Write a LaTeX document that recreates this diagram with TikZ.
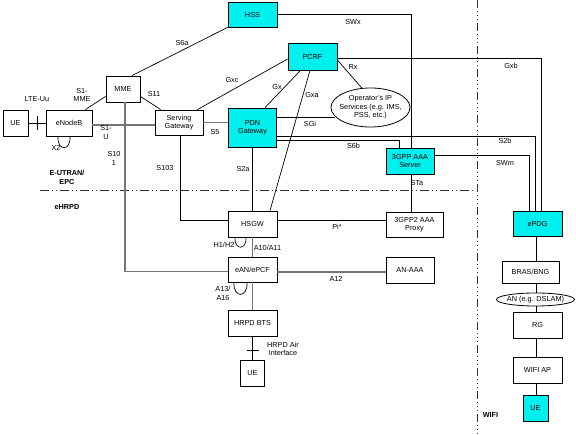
\documentclass[tikz,border=0pt]{standalone}
\usepackage{fontspec}
\setmainfont{Liberation Sans}
\usetikzlibrary{shapes.geometric,calc}
\definecolor{boxcyan}{RGB}{0,240,240}
\definecolor{lgray}{RGB}{118,118,118}
\begin{document}
\begin{tikzpicture}[x=1pt,y=-1pt,
  font=\fontsize{7.3}{8.3}\selectfont,
  box/.style n args={2}{draw, rectangle, line width=0.8pt, inner sep=0pt,
    minimum width=#1pt, minimum height=#2pt, align=center},
  cbox/.style n args={2}{box={#1}{#2}, fill=boxcyan},
  oval/.style n args={2}{draw, ellipse, line width=0.8pt, inner sep=0pt,
    minimum width=#1pt, minimum height=#2pt},
  conn/.style={line width=0.7pt},
  glink/.style={line width=1.5pt, draw=lgray},
  lbl/.style={inner sep=0pt, align=center},
  blbl/.style={inner sep=0pt, align=center, font=\bfseries\fontsize{7.3}{8.3}\selectfont},
  sep/.style={line width=1pt, draw=black!80}]
\fill[white] (0,0) rectangle (576,435);
\useasboundingbox (0,0) rectangle (576,435);

% nodes
\node[box={25}{26}] (ue1) at (15.5,123) {UE};
\node[box={46}{26}] (enb) at (69,123) {eNodeB};
\node[box={34}{26}] (mme) at (123,89) {MME};
\node[box={48}{25}] (sgw) at (179,122.5) {Serving\\Gateway};
\node[cbox={49}{25}] (hss) at (252.5,14.5) {HSS};
\node[cbox={49}{27}] (pcrf) at (312.5,56.5) {PCRF};
\node[cbox={48}{39}] (pdn) at (252.5,127.5) {PDN\\Gateway};
\node[oval={79}{39}] (ops) at (370.5,107.5) {};
\node[lbl] (opstext) at (ops) {Operator's IP\\Services (e.g. IMS,\\PSS, etc.)};
\node[cbox={48}{26}] (aaa) at (410,161) {3GPP AAA\\Server};
\node[box={49}{26}] (hsgw) at (252.5,224) {HSGW};
\node[box={57}{25}] (proxy) at (414.5,224.5) {3GPP2 AAA\\Proxy};
\node[box={49}{25}] (ean) at (252.5,269.5) {eAN/ePCF};
\node[box={48}{26}] (anaaa) at (410,270) {AN-AAA};
\node[box={49}{26}] (bts) at (252.5,323) {HRPD BTS};
\node[box={24}{26}] (ue2) at (252.5,373) {UE};
\node[cbox={49}{25}] (epdg) at (537.5,223.5) {ePDG};
\node[box={57}{22}] (bras) at (530.5,272) {BRAS/BNG};
\node[oval={78}{13}] (an) at (535.5,299.5) {};
\node[lbl] (antext) at (an) {AN (e.g. DSLAM)};
\node[box={49}{26}] (rg) at (537.5,325) {RG};
\node[box={49}{26}] (ap) at (537.5,370) {WIFI AP};
\node[cbox={25}{26}] (ue3) at (535.5,408) {UE};
\coordinate (cx) at (536,0);

% separators
\draw[sep, dash pattern=on 9pt off 3pt on 1pt off 3pt on 1pt off 3pt] (40,191) -- (476,191);
\draw[sep, dash pattern=on 8pt off 3pt on 1pt off 3pt on 1pt off 3pt on 1pt off 3pt] (477,0) -- (477,435);

% E-UTRAN connectors
\draw[conn] (ue1) -- (enb);
\draw[conn] ($(ue1.east)!0.5!(enb.west)$) ++(0,-7) -- ++(0,14);
\draw[conn] ([xshift=-11pt]enb.south) .. controls +(-1,15) and +(1,15) .. ([xshift=1pt]enb.south);
\draw[conn] ([xshift=-7pt]enb.north east) -- ([yshift=6pt]mme.south west);
\draw[glink] ([yshift=-2pt]enb.east) -- ([yshift=-2pt]enb.east -| sgw.west);
\draw[conn] ([yshift=6pt]mme.south east) -- ([xshift=6pt]sgw.north west);
\draw[conn] ([xshift=9pt]mme.north) -- (hss.south west);
\draw[glink] ([xshift=2pt]mme.south) |- ([yshift=-2pt]ean.west);
\draw[glink] (sgw.east) -- (sgw.east -| pdn.west);
\draw[conn] ([xshift=1pt]sgw.south) |- ([yshift=4pt]hsgw.west);
\draw[conn] ([xshift=-6pt]sgw.north east) -- ([yshift=-2.5pt]pcrf.west);
\draw[conn] ([xshift=-12pt]pcrf.south) -- ([xshift=12.5pt]pdn.north);
\draw[conn] ([xshift=-2.5pt]pcrf.south) -- ([xshift=17.5pt]hsgw.north);
\draw[conn] ([yshift=-3.5pt]pcrf.east) -- (ops.114);
\draw[conn] (ops.195) -- (ops.195 -| pdn.east);
\draw[conn] ([yshift=-12.5pt]pdn.east) -| ([xshift=-11pt]aaa.north);
\draw[conn] ([yshift=-8.5pt]pdn.east) -| ([xshift=-2.5pt]epdg.north);
\draw[conn] (hss.east) -| ([xshift=1pt]aaa.north);
\draw[conn] ([yshift=-1.5pt]pcrf.east) -| ([xshift=3.5pt]epdg.north);
\draw[conn] ([yshift=6pt]aaa.east) -| ([xshift=-8.5pt]epdg.north);
\draw[conn] ([xshift=1pt]aaa.south) -- ([xshift=1pt]aaa.south |- proxy.north);
\draw[conn] (pdn.south) -- (hsgw.north);

% eHRPD connectors
\draw[conn] ([yshift=4pt]hsgw.east) -- ([yshift=4pt]hsgw.east -| proxy.west);
\draw[glink] (hsgw.south) -- (ean.north);
\draw[conn] ([xshift=-17.5pt]hsgw.south) .. controls +(-1,13) and +(1,13) .. ([xshift=-6.5pt]hsgw.south);
\draw[glink] ([yshift=-2.5pt]ean.east) -- ([yshift=-2.5pt]ean.east -| anaaa.west);
\draw[conn] ([xshift=-18.5pt]ean.south) .. controls +(-1,16) and +(1,16) .. ([xshift=-5.5pt]ean.south);
\draw[glink] (ean.south) -- (bts.north);
\draw[conn] (bts.south) -- (ue2.north);
\draw[conn] ([yshift=-14pt]bts.south) ++(-6,0) -- ++(12,0);

% WiFi chain
\draw[conn] (epdg.south -| cx) -- (bras.north -| cx);
\draw[conn] (bras.south -| cx) -- (an.north -| cx);
\draw[conn] (an.south -| cx) -- (rg.north -| cx);
\draw[conn] (rg.south -| cx) -- (ap.north -| cx);
\draw[conn] (ap.south -| cx) -- (ue3.north -| cx);

% labels
\node[lbl] (lLTE) at (37,99) {LTE-Uu};
\node[lbl] (lS1M) at (82,95) {S1-\\MME};
\node[lbl] (lS1U) at (106,132.5) {S1-\\U};
\node[lbl] (lX2) at (56,147.5) {X2};
\node[lbl] (lS11) at (154,94) {S11};
\node[lbl] (lS6a) at (182,43) {S6a};
\node[lbl] (lSWx) at (353,22) {SWx};
\node[lbl] (lGxc) at (232,80) {Gxc};
\node[lbl] (lGx) at (277,87) {Gx};
\node[lbl] (lGxa) at (312,95) {Gxa};
\node[lbl] (lRx) at (353,67) {Rx};
\node[lbl] (lGxb) at (511,66) {Gxb};
\node[lbl] (lS5) at (215,132) {S5};
\node[lbl] (lSGi) at (310,124) {SGi};
\node[lbl] (lS6b) at (353.5,146) {S6b};
\node[lbl] (lS2b) at (505,141) {S2b};
\node[lbl] (lSWm) at (505,163) {SWm};
\node[lbl] (lSTa) at (417,183) {STa};
\node[lbl] (lS101) at (114,158.5) {S10\\1};
\node[lbl] (lS103) at (165,168) {S103};
\node[lbl] (lS2a) at (243,169) {S2a};
\node[blbl] (lEU) at (67,177.5) {E-UTRAN/\\EPC};
\node[blbl] (lEH) at (67,207) {eHRPD};
\node[lbl] (lPi) at (337,227) {Pi*};
\node[lbl] (lH1) at (224,245) {H1/H2};
\node[lbl] (lA10) at (267.5,248) {A10/A11};
\node[lbl] (lA12) at (336,279) {A12};
\node[lbl] (lA13) at (223,293.5) {A13/\\A16};
\node[lbl] (lAir) at (283,349) {HRPD Air\\Interface};
\node[blbl] (lWIFI) at (490.5,415) {WIFI};
\end{tikzpicture}
\end{document}
